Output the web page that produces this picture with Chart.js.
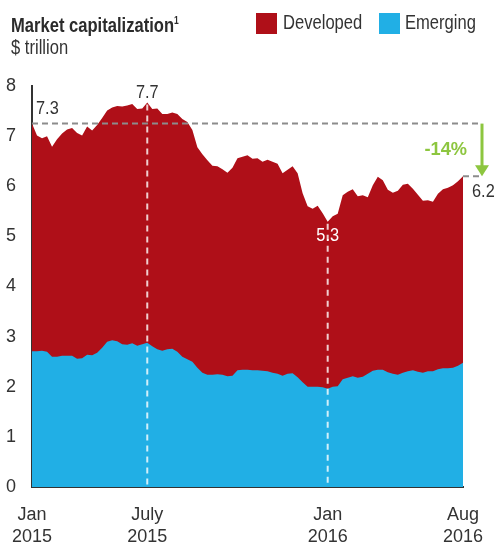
<!DOCTYPE html>
<html>
<head>
<meta charset="utf-8">
<script src="https://cdn.jsdelivr.net/npm/chart.js@4"></script>
<style>
  body { margin: 0; background: #fff; font-family: "Liberation Sans", Arial, sans-serif; color: #333; }
  #wrap { position: relative; width: 498px; height: 543px; }
  .txt { position: absolute; font-size: 19.5px; line-height: 20px; white-space: nowrap; transform: scaleX(0.85); transform-origin: 0 0; }
  #title { left: 11px; top: 11px; font-weight: bold; color: #2b2b2b; }
  #title sup { font-size: 10px; vertical-align: 8px; }
  #unit { left: 11px; top: 37px; }
  .sw { position: absolute; top: 13px; width: 21px; height: 21px; }
  canvas { position: absolute; left: 0; top: 0; }
</style>
</head>
<body>
<div id="wrap">
  <canvas id="chart" width="498" height="543"></canvas>
  <div id="title" class="txt">Market capitalization<sup>1</sup></div>
  <div id="unit" class="txt">$ trillion</div>
  <div class="sw" style="left:256px;background:#af0f18"></div>
  <div class="txt" style="left:283px;top:12px">Developed</div>
  <div class="sw" style="left:379px;background:#21afe5"></div>
  <div class="txt" style="left:405px;top:12px">Emerging</div>
</div>
<script>
// weekly readings, Jan 2015 - Aug 2016, $ trillion
const total = [7.25, 7.01, 6.96, 7.00, 6.79, 6.94, 7.05, 7.13, 7.16, 7.06,
  7.01, 7.19, 7.11, 7.22, 7.36, 7.51, 7.57, 7.60, 7.59, 7.61,
  7.64, 7.54, 7.55, 7.67, 7.54, 7.55, 7.44, 7.44, 7.47, 7.44,
  7.34, 7.28, 7.12, 6.78, 6.64, 6.52, 6.41, 6.40, 6.34, 6.27,
  6.37, 6.56, 6.59, 6.62, 6.55, 6.56, 6.49, 6.53, 6.49, 6.45,
  6.26, 6.33, 6.40, 6.26, 5.86, 5.60, 5.55, 5.61, 5.46, 5.29,
  5.40, 5.45, 5.82, 5.89, 5.94, 5.80, 5.82, 5.78, 6.02, 6.19,
  6.12, 5.93, 5.87, 5.91, 6.03, 6.05, 5.95, 5.83, 5.71, 5.72,
  5.69, 5.85, 5.94, 5.97, 6.02, 6.10, 6.20];
const emerging = [2.71, 2.71, 2.72, 2.70, 2.60, 2.60, 2.62, 2.62, 2.62, 2.56,
  2.57, 2.64, 2.63, 2.68, 2.78, 2.90, 2.93, 2.91, 2.85, 2.84,
  2.87, 2.82, 2.85, 2.88, 2.81, 2.75, 2.72, 2.75, 2.76, 2.70,
  2.60, 2.55, 2.50, 2.38, 2.28, 2.24, 2.24, 2.25, 2.24, 2.21,
  2.22, 2.33, 2.34, 2.34, 2.33, 2.33, 2.32, 2.31, 2.28, 2.26,
  2.22, 2.26, 2.27, 2.19, 2.09, 2.00, 2.00, 2.00, 1.99, 1.96,
  2.00, 2.01, 2.15, 2.18, 2.21, 2.18, 2.20, 2.26, 2.32, 2.34,
  2.34, 2.29, 2.26, 2.24, 2.28, 2.31, 2.33, 2.30, 2.28, 2.31,
  2.31, 2.35, 2.37, 2.37, 2.38, 2.42, 2.48];
const weeks = total.map((v, i) => i);
const tickLabels = { 0: ['Jan', '2015'], 23: ['July', '2015'], 59: ['Jan', '2016'], 86: ['Aug', '2016'] };
const startVal = 7.3, peakVal = 7.7, troughVal = 5.3, endVal = 6.2;
const peakIdx = 23, troughIdx = 59;
const change = '-14%';

const FONT = '"Liberation Sans", Arial, sans-serif';

// condensed text helper
function label(c, s, x, y, align, sx) {
  c.save();
  c.translate(x, y);
  c.scale(sx || 0.86, 1);
  c.textAlign = align;
  c.fillText(s, 0, 0);
  c.restore();
}

const notes = {
  id: 'notes',
  afterDatasetsDraw(chart) {
    const c = chart.ctx, x = chart.scales.x, y = chart.scales.y;
    const x0 = x.getPixelForValue(0), xEnd = x.getPixelForValue(total.length - 1);
    const yStart = y.getPixelForValue(total[0]);
    const yEnd = y.getPixelForValue(total[total.length - 1]);
    const yBase = y.getPixelForValue(0);
    const xArrow = xEnd + 19;
    c.save();
    c.lineWidth = 2;
    // reference lines
    c.strokeStyle = '#8c8c8c';
    c.setLineDash([6, 4]);
    c.beginPath(); c.moveTo(x0, yStart); c.lineTo(xArrow, yStart); c.stroke();
    c.beginPath(); c.moveTo(xEnd, yEnd); c.lineTo(xArrow, yEnd); c.stroke();
    // peak / trough markers
    c.strokeStyle = 'rgba(255,255,255,0.8)';
    c.setLineDash([6, 5]);
    const xp = x.getPixelForValue(peakIdx), xt = x.getPixelForValue(troughIdx);
    c.beginPath(); c.moveTo(xp, y.getPixelForValue(total[peakIdx]) + 2); c.lineTo(xp, yBase - 1); c.stroke();
    c.beginPath(); c.moveTo(xt, y.getPixelForValue(total[troughIdx]) + 2); c.lineTo(xt, yBase - 1); c.stroke();
    c.setLineDash([]);
    // arrow
    c.strokeStyle = '#8dc63f'; c.fillStyle = '#8dc63f'; c.lineWidth = 3;
    c.beginPath(); c.moveTo(xArrow, yStart); c.lineTo(xArrow, yEnd - 10); c.stroke();
    c.beginPath(); c.moveTo(xArrow - 7, yEnd - 11); c.lineTo(xArrow + 7, yEnd - 11); c.lineTo(xArrow, yEnd); c.closePath(); c.fill();
    // labels
    c.textBaseline = 'middle';
    c.font = 'bold 19px ' + FONT;
    label(c, change, xArrow - 15, (yStart + yEnd) / 2, 'right', 0.96);
    c.font = '19px ' + FONT;
    c.fillStyle = '#333';
    label(c, startVal.toFixed(1), x0 + 4, yStart - 15, 'left');
    label(c, endVal.toFixed(1), xEnd + 9, yEnd + 16, 'left');
    label(c, peakVal.toFixed(1), xp, y.getPixelForValue(total[peakIdx]) - 10, 'center');
    c.fillStyle = '#fff';
    label(c, troughVal.toFixed(1), xt, y.getPixelForValue(total[troughIdx]) + 14, 'center');
    c.restore();
  }
};

new Chart(document.getElementById('chart').getContext('2d'), {
  type: 'line',
  data: {
    labels: weeks,
    datasets: [{
      label: 'Emerging',
      data: emerging,
      backgroundColor: '#21afe5',
      fill: 'origin',
      borderWidth: 0,
      pointRadius: 0,
      order: 0
    }, {
      label: 'Developed',
      data: total,
      backgroundColor: '#af0f18',
      fill: 'origin',
      borderWidth: 0,
      pointRadius: 0,
      order: 1
    }]
  },
  options: {
    responsive: false,
    animation: false,
    layout: { padding: { top: 86, right: 35, left: 0, bottom: 0 } },
    plugins: { legend: { display: false }, tooltip: { enabled: false } },
    scales: {
      x: {
        offset: false,
        grid: { display: false },
        border: { display: true, color: '#333', width: 2 },
        afterFit(s) { s.height = 56; },
        ticks: {
          autoSkip: false, maxRotation: 0, padding: 9,
          color: '#333', font: { family: FONT, size: 18, lineHeight: 1.22 },
          callback: (v, i) => tickLabels[i] || ''
        }
      },
      y: {
        min: 0, max: 8,
        grid: { display: false },
        border: { display: true, color: '#333', width: 2 },
        afterFit(s) { s.width = 32; },
        ticks: { stepSize: 1, padding: 8, color: '#333', font: { family: FONT, size: 18 } }
      }
    }
  },
  plugins: [notes]
});
</script>
</body>
</html>
